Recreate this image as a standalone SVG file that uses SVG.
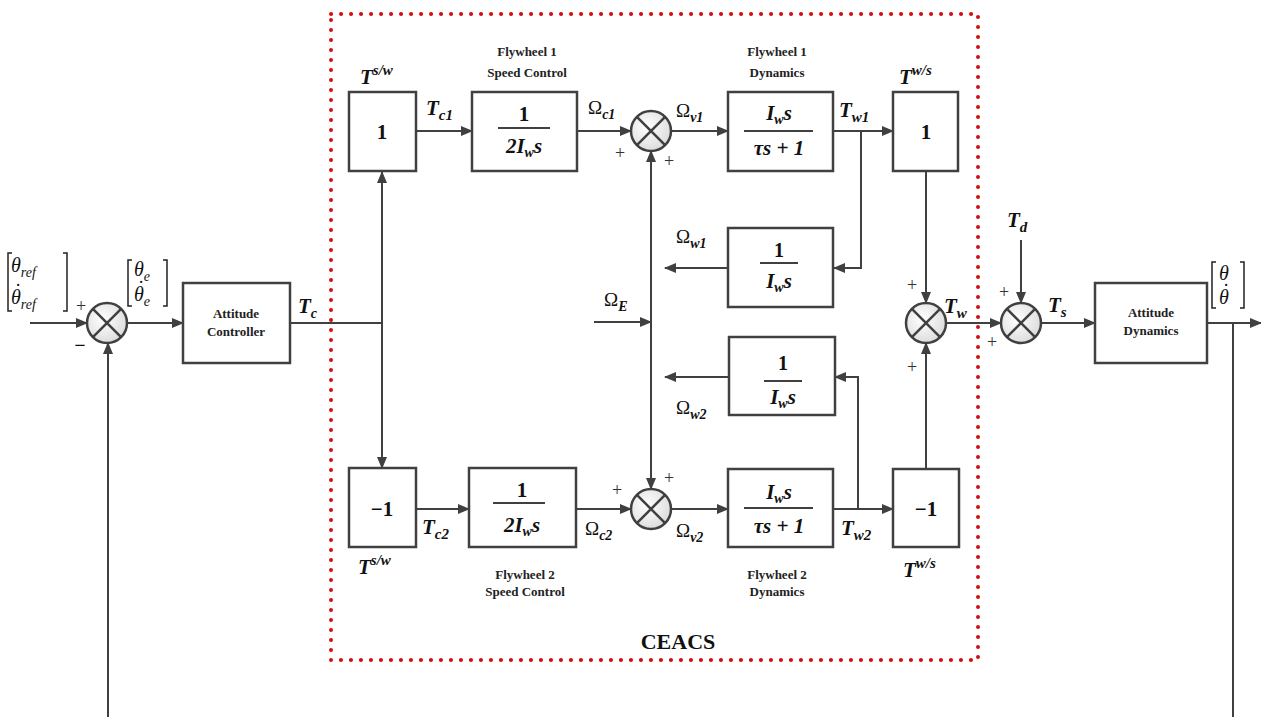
<svg xmlns="http://www.w3.org/2000/svg" width="1261" height="717" viewBox="0 0 1261 717">
<style>
.ln{stroke:#404040;stroke-width:2;fill:none}
.arr{stroke:#404040;stroke-width:2;fill:none;marker-end:url(#ah)}
.blk{fill:#fff;stroke:#404040;stroke-width:2.5}
.sum{fill:url(#sg);stroke:#404040;stroke-width:2.5}
.x{stroke:#404040;stroke-width:2.5}
.fr{stroke:#404040;stroke-width:2}
.m{font-family:"Liberation Serif",serif;fill:#111}
.bi{font-weight:bold;font-style:italic}
.b{font-weight:bold}
.i{font-style:italic}
.cap{font-family:"Liberation Serif",serif;font-weight:bold;font-size:13px;fill:#222;text-anchor:middle}
.pl{font-family:"Liberation Serif",serif;font-size:18px;fill:#333;text-anchor:middle}
.dt{font-family:"Liberation Serif",serif;font-size:20px;fill:#111;text-anchor:middle}
.br{stroke:#222;stroke-width:1.5;fill:none}
</style>
<defs>
<marker id="ah" markerUnits="userSpaceOnUse" markerWidth="12" markerHeight="10" refX="11" refY="5" orient="auto">
<path d="M0,0 L12,5 L0,10 z" fill="#404040"/>
</marker>
<radialGradient id="sg" cx="0.4" cy="0.4" r="0.7">
<stop offset="0" stop-color="#ffffff"/>
<stop offset="1" stop-color="#d8d8d8"/>
</radialGradient>
</defs>
<rect width="1261" height="717" fill="#fff"/>

<!-- CEACS boundary -->
<g id="ceacs">
<rect x="331" y="14" width="647" height="646" fill="none" stroke="#d01010" stroke-width="4" stroke-linecap="round" stroke-dasharray="0.1 9.9"/>
<text x="678" y="649" class="m b" font-size="22" text-anchor="middle">CEACS</text>
</g>

<g id="connectors">
<path class="arr" d="M30,323 H87"/>
<path class="arr" d="M127,323 H183"/>
<path class="ln" d="M290,323 H382"/>
<path class="arr" d="M382,323 V172"/>
<path class="arr" d="M382,323 V468"/>
<path class="arr" d="M416,131 H472"/>
<path class="arr" d="M577,131 H631"/>
<path class="arr" d="M671,131 H728"/>
<path class="arr" d="M833,131 H893"/>
<path class="arr" d="M861,131 V268 H834"/>
<path class="arr" d="M728,268 H665"/>
<path class="arr" d="M651,322 V151"/>
<path class="arr" d="M651,322 V489"/>
<path class="arr" d="M594,322 H651"/>
<path class="arr" d="M416,509 H469"/>
<path class="arr" d="M576,509 H631"/>
<path class="arr" d="M671,509 H728"/>
<path class="arr" d="M833,509 H893"/>
<path class="arr" d="M858,509 V377 H835"/>
<path class="arr" d="M729,377 H665"/>
<path class="arr" d="M926,171 V303"/>
<path class="arr" d="M926,469 V343"/>
<path class="arr" d="M946,323 H1001"/>
<path class="arr" d="M1021,240 V303"/>
<path class="arr" d="M1041,323 H1095"/>
<path class="arr" d="M1207,323 H1261"/>
<path class="ln" d="M1233,323 V717"/>
<path class="arr" d="M108,717 V343"/>
</g>

<!-- summing junctions -->
<g id="sum0"><circle class="sum" cx="107" cy="323" r="20"/><path class="x" d="M92.9,308.9 L121.1,337.1 M121.1,308.9 L92.9,337.1"/></g>
<g id="sum1"><circle class="sum" cx="651" cy="131" r="20"/><path class="x" d="M636.9,116.9 L665.1,145.1 M665.1,116.9 L636.9,145.1"/></g>
<g id="sum2"><circle class="sum" cx="651" cy="509" r="20"/><path class="x" d="M636.9,494.9 L665.1,523.1 M665.1,494.9 L636.9,523.1"/></g>
<g id="sumTw"><circle class="sum" cx="926" cy="323" r="20"/><path class="x" d="M911.9,308.9 L940.1,337.1 M940.1,308.9 L911.9,337.1"/></g>
<g id="sumTs"><circle class="sum" cx="1021" cy="323" r="20"/><path class="x" d="M1006.9,308.9 L1035.1,337.1 M1035.1,308.9 L1006.9,337.1"/></g>

<!-- Attitude controller -->
<g id="attctrl">
<rect class="blk" x="183" y="283" width="107" height="80"/>
<text class="cap" x="236" y="318">Attitude</text>
<text class="cap" x="236" y="336">Controller</text>
</g>

<!-- top T s/w -->
<g id="tsw1">
<rect class="blk" x="349" y="92" width="67" height="79"/>
<text class="m b" x="382" y="139" font-size="21" text-anchor="middle">1</text>
<text class="m bi" x="360" y="84" font-size="21">T<tspan font-size="15" dy="-9">s/w</tspan></text>
</g>

<g id="spd1">
<rect class="blk" x="472" y="92" width="105" height="79"/>
<text class="m b" x="524" y="121" font-size="21" text-anchor="middle">1</text>
<line class="fr" x1="498" y1="128" x2="550" y2="128"/>
<text class="m bi" x="524" y="153" font-size="21" text-anchor="middle">2I<tspan font-size="14" dy="4">w</tspan><tspan dy="-4">s</tspan></text>
<text class="cap" x="527" y="56">Flywheel 1</text>
<text class="cap" x="527" y="77">Speed Control</text>
</g>

<g id="dyn1">
<rect class="blk" x="728" y="92" width="105" height="79"/>
<text class="m bi" x="779" y="120" font-size="21" text-anchor="middle">I<tspan font-size="14" dy="4">w</tspan><tspan dy="-4">s</tspan></text>
<line class="fr" x1="744" y1="131" x2="813" y2="131"/>
<text class="m bi" x="779" y="155" font-size="21" text-anchor="middle">τs + 1</text>
<text class="cap" x="777" y="56">Flywheel 1</text>
<text class="cap" x="777" y="77">Dynamics</text>
</g>

<g id="tws1">
<rect class="blk" x="893" y="92" width="65" height="79"/>
<text class="m b" x="926" y="139" font-size="21" text-anchor="middle">1</text>
<text class="m bi" x="899" y="84" font-size="21">T<tspan font-size="15" dy="-9">w/s</tspan></text>
</g>

<g id="int1">
<rect class="blk" x="728" y="228" width="105" height="79"/>
<text class="m b" x="779" y="257" font-size="20" text-anchor="middle">1</text>
<line class="fr" x1="760" y1="263" x2="798" y2="263"/>
<text class="m bi" x="779" y="288" font-size="21" text-anchor="middle">I<tspan font-size="14" dy="4">w</tspan><tspan dy="-4">s</tspan></text>
</g>

<g id="int2">
<rect class="blk" x="729" y="337" width="106" height="78"/>
<text class="m b" x="783" y="370" font-size="20" text-anchor="middle">1</text>
<line class="fr" x1="764" y1="381" x2="802" y2="381"/>
<text class="m bi" x="783" y="404" font-size="21" text-anchor="middle">I<tspan font-size="14" dy="4">w</tspan><tspan dy="-4">s</tspan></text>
</g>

<!-- bottom path -->
<g id="tsw2">
<rect class="blk" x="349" y="468" width="67" height="79"/>
<text class="m b" x="382" y="516" font-size="21" text-anchor="middle">−1</text>
<text class="m bi" x="358" y="574" font-size="21">T<tspan font-size="15" dy="-9">s/w</tspan></text>
</g>

<g id="spd2">
<rect class="blk" x="469" y="468" width="107" height="79"/>
<text class="m b" x="522" y="497" font-size="21" text-anchor="middle">1</text>
<line class="fr" x1="493" y1="503" x2="545" y2="503"/>
<text class="m bi" x="522" y="532" font-size="21" text-anchor="middle">2I<tspan font-size="14" dy="4">w</tspan><tspan dy="-4">s</tspan></text>
<text class="cap" x="525" y="579">Flywheel 2</text>
<text class="cap" x="525" y="596">Speed Control</text>
</g>

<g id="dyn2">
<rect class="blk" x="728" y="469" width="105" height="78"/>
<text class="m bi" x="779" y="499" font-size="21" text-anchor="middle">I<tspan font-size="14" dy="4">w</tspan><tspan dy="-4">s</tspan></text>
<line class="fr" x1="744" y1="508" x2="813" y2="508"/>
<text class="m bi" x="779" y="533" font-size="21" text-anchor="middle">τs + 1</text>
<text class="cap" x="777" y="579">Flywheel 2</text>
<text class="cap" x="777" y="596">Dynamics</text>
</g>

<g id="tws2">
<rect class="blk" x="893" y="469" width="66" height="78"/>
<text class="m b" x="926" y="516" font-size="21" text-anchor="middle">−1</text>
<text class="m bi" x="903" y="577" font-size="21">T<tspan font-size="15" dy="-9">w/s</tspan></text>
</g>

<g id="attdyn">
<rect class="blk" x="1095" y="283" width="112" height="80"/>
<text class="cap" x="1151" y="317">Attitude</text>
<text class="cap" x="1151" y="335">Dynamics</text>
</g>

<!-- signal labels -->
<g id="labels">
<text class="m bi" x="298" y="313" font-size="21">T<tspan font-size="14" dy="5">c</tspan></text>
<text class="m bi" x="426" y="115" font-size="21">T<tspan font-size="15" dy="5">c1</tspan></text>
<text class="m" x="588" y="114" font-size="19">Ω<tspan class="bi" font-size="14" dy="5">c1</tspan></text>
<text class="m" x="676" y="117" font-size="19">Ω<tspan class="bi" font-size="14" dy="5">v1</tspan></text>
<text class="m bi" x="839" y="117" font-size="21">T<tspan font-size="15" dy="5">w1</tspan></text>
<text class="m" x="676" y="243" font-size="19">Ω<tspan class="bi" font-size="14" dy="5">w1</tspan></text>
<text class="m" x="604" y="306" font-size="19">Ω<tspan class="bi" font-size="14" dy="5">E</tspan></text>
<text class="m" x="676" y="414" font-size="19">Ω<tspan class="bi" font-size="14" dy="5">w2</tspan></text>
<text class="m bi" x="422" y="534" font-size="21">T<tspan font-size="15" dy="5">c2</tspan></text>
<text class="m" x="585" y="535" font-size="19">Ω<tspan class="bi" font-size="14" dy="5">c2</tspan></text>
<text class="m" x="676" y="537" font-size="19">Ω<tspan class="bi" font-size="14" dy="5">v2</tspan></text>
<text class="m bi" x="841" y="535" font-size="21">T<tspan font-size="15" dy="5">w2</tspan></text>
<text class="m bi" x="944" y="313" font-size="21">T<tspan font-size="15" dy="5">w</tspan></text>
<text class="m bi" x="1007" y="227" font-size="21">T<tspan font-size="15" dy="5">d</tspan></text>
<text class="m bi" x="1048" y="312" font-size="21">T<tspan font-size="15" dy="5">s</tspan></text>

<text class="pl" x="620" y="159">+</text>
<text class="pl" x="669" y="167">+</text>
<text class="pl" x="617" y="496">+</text>
<text class="pl" x="669" y="484">+</text>
<text class="pl" x="912" y="291">+</text>
<text class="pl" x="912" y="373">+</text>
<text class="pl" x="1004" y="298">+</text>
<text class="pl" x="992" y="348">+</text>
<text class="pl" x="81" y="312">+</text>
<text class="m b" x="80" y="352" font-size="20" text-anchor="middle">−</text>

<!-- reference vector -->
<path class="br" d="M12,253 H8 V311 H12 M63,253 H67 V311 H63"/>
<text class="m i" x="11" y="272" font-size="20">θ<tspan font-size="14" dy="5">ref</tspan></text>
<text class="m i" x="11" y="304" font-size="20">θ<tspan font-size="14" dy="5">ref</tspan></text>
<text class="dt" x="18" y="298">˙</text>
<!-- error vector -->
<path class="br" d="M132,260 H128 V306 H132 M163,260 H167 V306 H163"/>
<text class="m i" x="134" y="276" font-size="20">θ<tspan font-size="14" dy="5">e</tspan></text>
<text class="m i" x="134" y="301" font-size="20">θ<tspan font-size="14" dy="5">e</tspan></text>
<text class="dt" x="141" y="295">˙</text>
<!-- output vector -->
<path class="br" d="M1216,262 H1212 V308 H1216 M1240,262 H1244 V308 H1240"/>
<text class="m i" x="1219" y="280" font-size="20">θ</text>
<text class="m i" x="1219" y="304" font-size="20">θ</text>
<text class="dt" x="1226" y="298">˙</text>
</g>
</svg>
